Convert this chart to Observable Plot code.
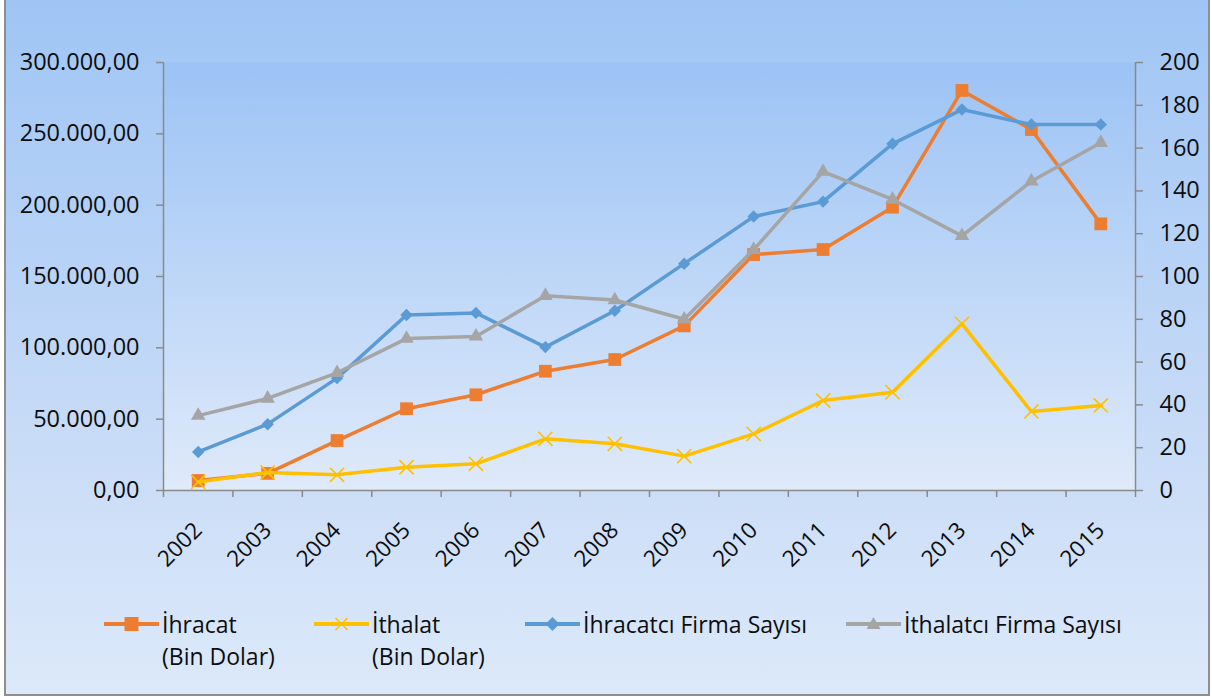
<!DOCTYPE html>
<html><head><meta charset="utf-8">
<script src="https://cdn.jsdelivr.net/npm/d3@7"></script>
<script src="https://cdn.jsdelivr.net/npm/@observablehq/plot@0.6"></script>
<style>
html,body{margin:0;padding:0;width:1212px;height:697px;overflow:hidden;font-family:"Open Sans",sans-serif;}
#frame{position:absolute;left:4px;top:-2px;width:1206px;height:698px;box-sizing:border-box;border:2px solid #8e8e8e;background:linear-gradient(to bottom,#9fc5f5 0%,#c9dcf7 65%,#dce9fa 100%);}
#chart{position:absolute;left:0;top:0;}
.leg{position:absolute;top:608px;display:flex;align-items:flex-start;}
.leg svg{flex:none;}
.leg .t{font-size:23px;line-height:32px;color:#0d0d0d;margin-left:3px;white-space:nowrap;}
</style></head>
<body>
<div id="frame"></div>
<div id="chart"></div>
<div id="legend"></div>
<script>
const years = [2002,2003,2004,2005,2006,2007,2008,2009,2010,2011,2012,2013,2014,2015];
const ihracat = [7000,12000,35000,57300,67100,83600,91800,115400,165400,168900,198600,280400,253000,186900];
const ithalat = [6000,12600,11000,16300,18700,36200,32700,24100,39700,63100,68900,116800,55400,59600];
const ihracatciFirma = [18,31,52.5,82,83,67,84,106,128,135,162,178,171,171];
const ithalatciFirma = [35,43,55,71,72,91,89,80,112.5,149,136,119,144.5,162.5];
const leftTicks = [0,50000,100000,150000,200000,250000,300000];
const rightTicks = [0,20,40,60,80,100,120,140,160,180,200];
const seriesNames = ["İhracat\n(Bin Dolar)","İthalat\n(Bin Dolar)","İhracatcı Firma Sayısı","İthalatcı Firma Sayısı"];
const colors = ["#ED7D31","#FFC000","#5B9BD5","#A5A5A5"];

const leftMax = leftTicks[leftTicks.length-1];
const rightMax = rightTicks[rightTicks.length-1];
const k = leftMax / rightMax;
const axisColor = "#8a8a8a";

const locale = d3.formatLocale({decimal:",",thousands:".",grouping:[3],currency:["",""]});
const fmtLeft = locale.format(",.2f");

const series = [
  {name: seriesNames[0], color: colors[0], values: ihracat, scale: 1, symbol: "square", r: 7.2, filled: true},
  {name: seriesNames[1], color: colors[1], values: ithalat, scale: 1, symbol: "times", r: 6.5, filled: false},
  {name: seriesNames[2], color: colors[2], values: ihracatciFirma, scale: k, symbol: "diamond2", r: 5.6, filled: true},
  {name: seriesNames[3], color: colors[3], values: ithalatciFirma, scale: k, symbol: "triangle", r: 5.4, filled: true}
];

const xLo = years[0] - 0.5, xHi = years[years.length-1] + 0.5;
const bounds = [xLo, ...years.map(y => y + 0.5)];

const marks = [
  Plot.frame({fill: "url(#plotGrad)", stroke: null}),
  Plot.ruleX([xLo], {stroke: axisColor, strokeWidth: 1.5}),
  Plot.ruleX([xHi], {stroke: axisColor, strokeWidth: 1.5}),
  Plot.ruleY([0], {stroke: axisColor, strokeWidth: 1.5}),
  Plot.axisY(leftTicks, {anchor: "left", tickFormat: fmtLeft, tickSize: 7, tickPadding: 17, stroke: axisColor, strokeWidth: 1.5, fill: "#0d0d0d", fontSize: 23.5, label: null}),
  Plot.axisY(rightTicks.map(v => v * k), {anchor: "right", tickFormat: d => String(Math.round(d / k)), tickSize: 7, tickPadding: 17, stroke: axisColor, strokeWidth: 1.5, fill: "#0d0d0d", fontSize: 23.5, label: null}),
  Plot.axisX(bounds, {anchor: "bottom", tickSize: 7, tickFormat: () => "", stroke: axisColor, strokeWidth: 1.5, label: null}),
  Plot.axisX(years, {anchor: "bottom", tickSize: 0, tickRotate: -45, tickPadding: 36, tickFormat: d => String(d), fill: "#0d0d0d", fontSize: 22.5, label: null})
];

for (const s of series) {
  const data = years.map((y, i) => ({year: y, v: s.values[i] * s.scale}));
  marks.push(Plot.line(data, {x: "year", y: "v", stroke: s.color, strokeWidth: 3.5}));
  if (s.filled) marks.push(Plot.dot(data, {x: "year", y: "v", symbol: s.symbol, r: s.r, fill: s.color, stroke: null}));
  else marks.push(Plot.dot(data, {x: "year", y: "v", symbol: s.symbol, r: s.r, stroke: s.color, strokeWidth: 1.6, fill: "none"}));
}

const chart = Plot.plot({
  width: 1212,
  height: 600,
  marginLeft: 163,
  marginRight: 77,
  marginTop: 62,
  marginBottom: 110,
  x: {type: "linear", domain: [xLo, xHi]},
  y: {domain: [0, leftMax]},
  style: {fontFamily: "'Open Sans', sans-serif", fontSize: "22px", color: "#0d0d0d", background: "transparent", overflow: "visible"},
  marks
});
chart.insertAdjacentHTML("afterbegin", '<defs><linearGradient id="plotGrad" x1="0" y1="0" x2="0" y2="1"><stop offset="0" stop-color="#9cc3f5"/><stop offset="1" stop-color="#dfeafa"/></linearGradient></defs>');
document.getElementById("chart").appendChild(chart);

// Legend
const legendLefts = [104, 314, 525, 846];
const legend = document.getElementById("legend");
series.forEach((s, i) => {
  const div = document.createElement("div");
  div.className = "leg";
  div.style.left = legendLefts[i] + "px";
  const w = 55, h = 34, cx = w/2, cy = 16;
  let marker = "";
  if (s.symbol === "square") marker = `<rect x="${cx-7}" y="${cy-7}" width="14" height="14" fill="${s.color}"/>`;
  else if (s.symbol === "times") marker = `<path d="M${cx-6},${cy-6}L${cx+6},${cy+6}M${cx-6},${cy+6}L${cx+6},${cy-6}" stroke="${s.color}" stroke-width="1.6"/>`;
  else if (s.symbol === "diamond2") marker = `<path d="M${cx},${cy-7}L${cx+7},${cy}L${cx},${cy+7}L${cx-7},${cy}Z" fill="${s.color}"/>`;
  else marker = `<path d="M${cx},${cy-7}L${cx+7},${cy+5}L${cx-7},${cy+5}Z" fill="${s.color}"/>`;
  div.innerHTML = `<svg width="${w}" height="${h}"><line x1="0" x2="${w}" y1="${cy}" y2="${cy}" stroke="${s.color}" stroke-width="4"/>${marker}</svg><div class="t">${s.name.replace("\n","<br>")}</div>`;
  legend.appendChild(div);
});
</script>
</body></html>
